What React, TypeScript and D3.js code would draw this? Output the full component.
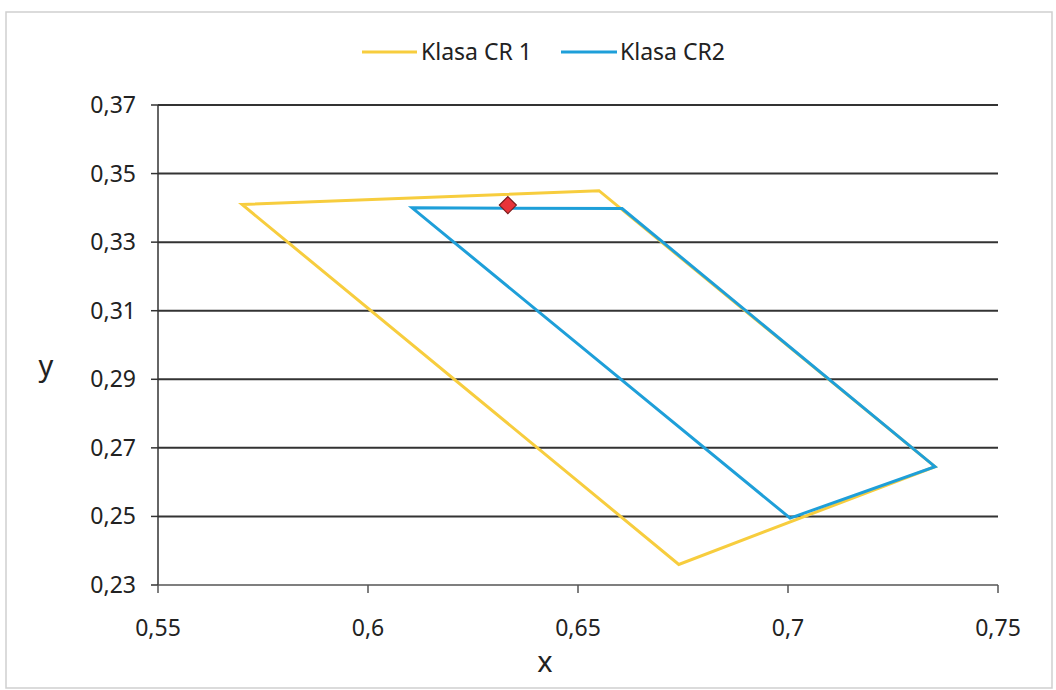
import React from "react";
import * as d3 from "d3";

const classCR1: [number, number][] = [
  [0.57, 0.341],
  [0.655, 0.345],
  [0.735, 0.2645],
  [0.674, 0.236],
];
const classCR2: [number, number][] = [
  [0.6105, 0.34],
  [0.6605, 0.3398],
  [0.735, 0.2645],
  [0.7005, 0.2495],
];
const markerPoint: [number, number] = [0.6333, 0.3408];
const xTicks = [0.55, 0.6, 0.65, 0.7, 0.75];
const yTicks = [0.23, 0.25, 0.27, 0.29, 0.31, 0.33, 0.35, 0.37];
const legendLabels = ["Klasa CR 1", "Klasa CR2"];

const W = 1056;
const H = 690;
const M = { left: 158, right: 998, top: 105, bottom: 585 };
const FONT = "'Noto Sans', 'Open Sans', sans-serif";
const YELLOW = "#F7CD3E";
const BLUE = "#1E9FD9";

export default function App() {
  const x = d3.scaleLinear().domain([0.55, 0.75]).range([M.left, M.right]);
  const y = d3.scaleLinear().domain([0.23, 0.37]).range([M.bottom, M.top]);
  const line = d3
    .line<[number, number]>()
    .x((d) => x(d[0]))
    .y((d) => y(d[1]))
    .curve(d3.curveLinearClosed);
  const fmt = (v: number) => String(+v.toFixed(2)).replace(".", ",");
  const mx = x(markerPoint[0]);
  const my = y(markerPoint[1]);
  const ds = 8.5;

  return (
    <svg
      width={W}
      height={H}
      style={{ position: "absolute", left: 0, top: 0, background: "#fff" }}
      fontFamily={FONT}
    >
      <rect x={0} y={0} width={W} height={H} fill="#fff" />
      <rect x={6} y={12} width={1046} height={676} fill="none" stroke="#cfcfcf" strokeWidth={1.5} />

      {yTicks.slice(1).map((t) => (
        <line key={t} x1={M.left} x2={M.right} y1={y(t)} y2={y(t)} stroke="#333" strokeWidth={2} />
      ))}
      <line x1={M.left} x2={M.left} y1={M.top} y2={M.bottom} stroke="#333" strokeWidth={1.5} />
      <line x1={M.left} x2={M.right} y1={M.bottom} y2={M.bottom} stroke="#555" strokeWidth={1.5} />
      {yTicks.map((t) => (
        <g key={t}>
          <line x1={M.left - 7} x2={M.left} y1={y(t)} y2={y(t)} stroke="#333" strokeWidth={1.5} />
          <text x={136} y={y(t)} dy="0.35em" textAnchor="end" fontSize={23} fill="#222">
            {fmt(t)}
          </text>
        </g>
      ))}
      {xTicks.map((t) => (
        <g key={t}>
          <line x1={x(t)} x2={x(t)} y1={M.bottom} y2={M.bottom + 8} stroke="#555" strokeWidth={1.5} />
          <text x={x(t)} y={628} dy="0.35em" textAnchor="middle" fontSize={23} fill="#222">
            {fmt(t)}
          </text>
        </g>
      ))}
      <text x={545} y={662} dy="0.35em" textAnchor="middle" fontSize={29} fill="#222">
        x
      </text>
      <text x={46} y={366} dy="0.35em" textAnchor="middle" fontSize={29} fill="#222">
        y
      </text>

      <path d={line(classCR1) || ""} fill="none" stroke={YELLOW} strokeWidth={3} strokeLinejoin="miter" />
      <path d={line(classCR2) || ""} fill="none" stroke={BLUE} strokeWidth={3} strokeLinejoin="miter" />
      <path
        d={`M${mx},${my - ds}L${mx + ds},${my}L${mx},${my + ds}L${mx - ds},${my}Z`}
        fill="#E8343A"
        stroke="#7a1a1a"
        strokeWidth={1.2}
      />

      <line x1={362} x2={417} y1={52} y2={52} stroke={YELLOW} strokeWidth={3} />
      <text x={421} y={52} dy="0.35em" fontSize={23} fill="#222">
        {legendLabels[0]}
      </text>
      <line x1={561} x2={617} y1={52} y2={52} stroke={BLUE} strokeWidth={3} />
      <text x={620} y={52} dy="0.35em" fontSize={23} fill="#222">
        {legendLabels[1]}
      </text>
    </svg>
  );
}
